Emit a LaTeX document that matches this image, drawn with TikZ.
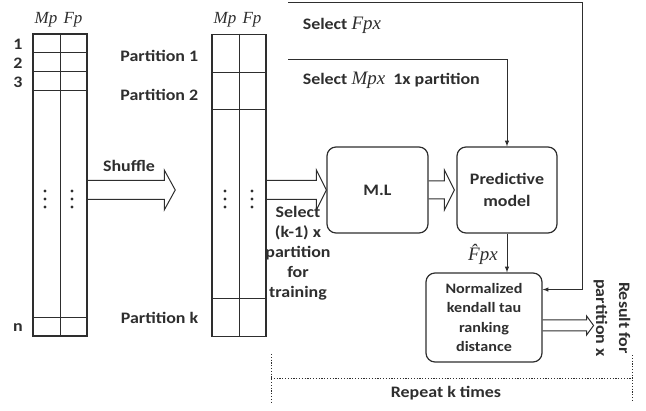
\documentclass[tikz,border=0pt]{standalone}
\usepackage{fontspec}
\setmainfont{Carlito}[FakeStretch=1.12]
\newfontfamily\varfont{Liberation Serif}
\usepackage{tikz}
\usetikzlibrary{calc}

\newcommand{\vname}[2][19]{{\varfont\mdseries\itshape\fontsize{#1}{#1}\selectfont #2}}
% hollow block arrow: start, tip, half shaft, half head, head length
\newcommand{\hollowarrow}[5]{%
  \draw ($#1+(0,-#3)$) -- ($#2+(-#5,-#3)$) -- ($#2+(-#5,-#4)$) -- #2
    -- ($#2+(-#5,#4)$) -- ($#2+(-#5,#3)$) -- ($#1+(0,#3)$);}

\begin{document}
\begin{tikzpicture}[x=1pt, y=-1pt, >=latex, line width=1pt, color=black!82,
    font=\bfseries\fontsize{16}{20}\selectfont,
    tbl/.style={draw, line width=1.5pt, minimum width=54, minimum height=302, inner sep=0},
    box/.style={draw, rounded corners=9pt, align=center, line width=1.2pt}]
        \useasboundingbox (0,0) rectangle (646,411);
        % data tables
        \node[tbl] (tabA) at (60,185) {};
        \node[tbl] (tabB) at (239,185.5) {};
        \draw (tabA.north) -- (tabA.south);
        \foreach \y in {53,72,91,318}
            \draw (tabA.west |- 0,\y) -- (tabA.east |- 0,\y);
        \draw (tabB.north) -- (tabB.south);
        \foreach \y in {73,110,299}
            \draw (tabB.west |- 0,\y) -- (tabB.east |- 0,\y);
        \foreach \x in {45,72,225,252}
            \foreach \y in {191,199,207}
                \fill (\x,\y) circle (1.6);
        \node (mpA) at (46,20) {\vname[17]{Mp}};
        \node (fpA) at (73,20) {\vname[17]{Fp}};
        \node (mpB) at (225,20) {\vname[17]{Mp}};
        \node (fpB) at (252,20) {\vname[17]{Fp}};
        \node (r1) at (18,44) {1};
        \node (r2) at (18,63) {2};
        \node (r3) at (18,82) {3};
        \node (rn) at (18,328) {n};
        \node[anchor=east] (part1) at (202,56) {Partition 1};
        \node[anchor=east] (part2) at (202,95) {Partition 2};
        \node[anchor=east] (partk) at (202,318) {Partition k};
        % processing boxes
        \node[box, minimum width=101, minimum height=86] (ml) at (377.5,190) {M.L};
        \node[box, minimum width=100, minimum height=86, font=\bfseries\fontsize{16}{22}\selectfont]
            (pred) at (507,190) {Predictive\\model};
        \node[box, minimum width=116, minimum height=89, font=\bfseries\fontsize{14.4}{19.5}\selectfont]
            (norm) at (484,317.5) {Normalized\\kendall tau\\ranking\\distance};
        % labels
        \node (shuffle) at (129,166) {Shuffle};
        \node[anchor=west] (selF) at (299,25) {Select \vname{Fpx}};
        \node[anchor=west] (selM) at (299,80) {Select \vname{Mpx}\ \ 1x partition};
        \node[align=center] (train) at (298,253) {Select\\(k-1) x\\partition\\for\\training};
        \node (fhat) at (483,254) {\vname{\^{F}px}};
        \node[rotate=-90, align=center, font=\bfseries\fontsize{16}{23}\selectfont]
            (result) at (612,318) {Result for\\partition x};
        \node (repeat) at (446,393) {Repeat k times};
        % connectors
        \coordinate (topF) at (288,3);
        \coordinate (topM) at (288,60);
        \coordinate (shufTip) at ($(tabB.west |- ml)+(-36,0)$);
        \coordinate (resTip) at ($(norm.east)+(51,8)$);
        \draw[->] (topF) -- (582,3) |- ($(norm.north east)!0.19!(norm.south east)$);
        \draw[->] (topM) -| (pred.north);
        \draw[->] (pred.south) -- (pred.south |- norm.north);
        \hollowarrow{(tabA.east |- ml)}{(shufTip)}{9.5}{20}{11}
        \hollowarrow{(tabB.east |- ml)}{(ml.west)}{9.5}{20}{10}
        \hollowarrow{(ml.east)}{($(pred.west)+(-2,0)$)}{9}{20}{10}
        \hollowarrow{($(norm.east)+(0,8)$)}{(resTip)}{5.5}{9.5}{7}
        % repeat bracket
        \draw[dash pattern=on 1.2pt off 1.6pt] (271,354) -- (271,402);
        \draw[dash pattern=on 1.2pt off 1.6pt] (271,379) -- (632,379);
        \draw[dash pattern=on 1.2pt off 1.6pt] (632,355) -- (632,400);
\end{tikzpicture}
\end{document}
